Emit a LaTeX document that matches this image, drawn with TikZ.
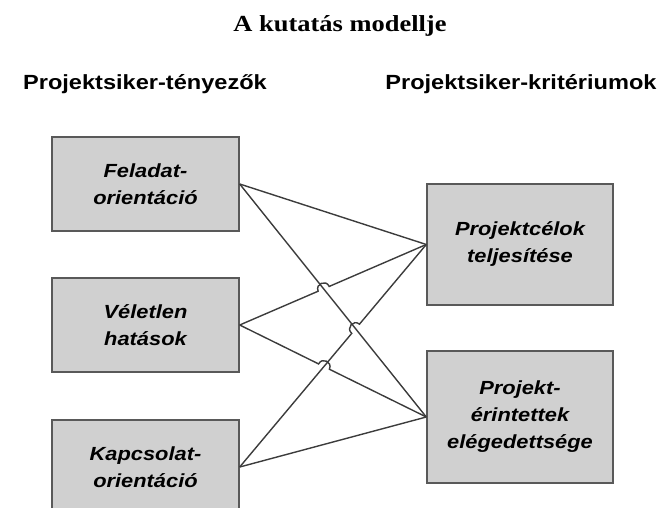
\documentclass[tikz,border=0pt]{standalone}
\usepackage{fontspec}
\setmainfont{Liberation Serif}[FakeStretch=1.15]
\setsansfont{Liberation Sans}[FakeStretch=1.15]
\usetikzlibrary{calc}
\definecolor{boxGrey}{RGB}{208,208,208}
\definecolor{lineGrey}{RGB}{60,60,60}

\begin{document}
\begin{tikzpicture}[x=1pt, y=-1pt,
    box/.style={rectangle, draw=lineGrey!85, fill=boxGrey, line width=1.4pt, minimum width=187pt, minimum height=94pt, align=center, inner sep=0pt, font=\sffamily\bfseries\itshape\fontsize{19}{27}\selectfont},
    head/.style={anchor=base, font=\sffamily\bfseries\fontsize{20.5}{24}\selectfont},
    link/.style={draw=lineGrey, line width=1.4pt},
    hop/.style={bend left=90, looseness=1.7}
]
\useasboundingbox (0,0) rectangle (664,508);
\clip (0,0) rectangle (664,508);

% Titles
\node[anchor=base, font=\bfseries\fontsize{23}{27}\selectfont] (title) at (340,32) {A kutatás modellje};
\node[head] (tenyezok) at (145,90) {Projektsiker-tényezők};
\node[head] (kriteriumok) at (521,90) {Projektsiker-kritériumok};

% Factors (left)
\node[box] (feladat) at (145.5,184) {Feladat-\\orientáció};
\node[box] (veletlen) at (145.5,325) {Véletlen\\hatások};
\node[box] (kapcsolat) at (145.5,467) {Kapcsolat-\\orientáció};

% Criteria (right)
\node[box, minimum width=186pt, minimum height=121pt] (celok) at (520,244.5) {Projektcélok\\teljesítése};
\node[box, minimum width=186pt, minimum height=132pt] (erintett) at (520,417) {Projekt-\\érintettek\\elégedettsége};

% Crossings
\coordinate (x1) at (intersection of feladat.east--erintett.west and veletlen.east--celok.west);
\coordinate (x2) at (intersection of feladat.east--erintett.west and kapcsolat.east--celok.west);
\coordinate (x3) at (intersection of veletlen.east--erintett.west and kapcsolat.east--celok.west);

% Links
\draw[link] (feladat.east) -- (celok.west);
\draw[link] (feladat.east) -- (erintett.west);
\draw[link] (veletlen.east) -- ($(x1)!6pt!(veletlen.east)$) to[hop] ($(x1)!6pt!(celok.west)$) -- (celok.west);
\draw[link] (veletlen.east) -- ($(x3)!6pt!(veletlen.east)$) to[hop] ($(x3)!6pt!(erintett.west)$) -- (erintett.west);
\draw[link] (kapcsolat.east) -- ($(x2)!6pt!(kapcsolat.east)$) to[hop] ($(x2)!6pt!(celok.west)$) -- (celok.west);
\draw[link] (kapcsolat.east) -- (erintett.west);
\end{tikzpicture}
\end{document}
